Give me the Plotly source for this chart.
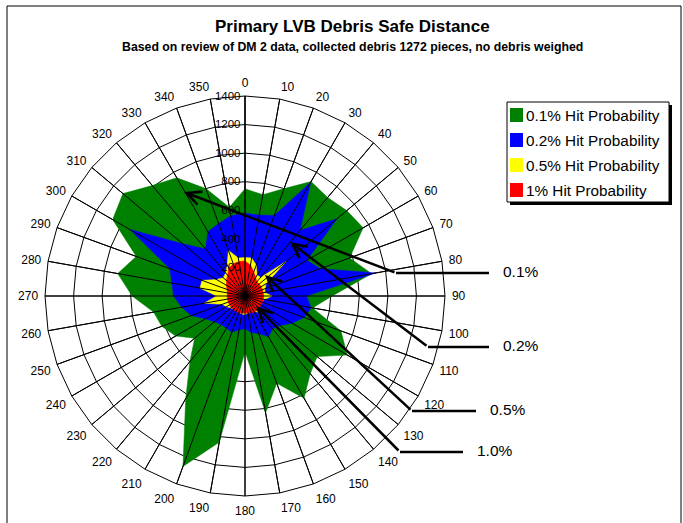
import plotly.graph_objects as go

# Compass bearings (degrees) used as radar categories
directions = [str(d) for d in range(0, 360, 10)]

# Safe distance per bearing for each hit-probability level
hit_01 = [750, 720, 800, 925, 900, 930, 955, 780, 900, 610, 480, 715,
          826, 660, 710, 826, 650, 830, 390, 1040, 1270, 830, 600, 460,
          560, 620, 650, 790, 905, 810, 1070, 1115, 1010, 955, 800, 630]
hit_02 = [580, 575, 600, 920, 600, 840, 500, 560, 930, 430, 470, 440,
          380, 320, 300, 330, 280, 260, 230, 240, 270, 260, 260, 280,
          320, 400, 450, 500, 520, 560, 930, 570, 430, 520, 540, 570]
hit_05 = [270, 270, 230, 170, 170, 380, 170, 150, 140, 190, 140, 120,
          110, 110, 150, 120, 120, 120, 130, 130, 120, 120, 120, 130,
          150, 170, 290, 200, 320, 320, 230, 200, 210, 250, 340, 270]
hit_1 = [245, 220, 180, 150, 130, 130, 130, 130, 130, 130, 130, 130,
         130, 130, 130, 130, 125, 120, 120, 120, 125, 125, 125, 125,
         125, 125, 125, 125, 125, 135, 150, 170, 190, 225, 240, 245]

series_names = ["0.1% Hit Probability", "0.2% Hit Probability",
                "0.5% Hit Probability", "1% Hit Probability"]
series_values = [hit_01, hit_02, hit_05, hit_1]
series_colors = ["#008000", "#0000FF", "#FFFF00", "#FF0000"]

radial_ticks = [200, 400, 600, 800, 1000, 1200, 1400]
r_max = 1400

W, H = 683, 523
FONT = "Liberation Sans, Arial, sans-serif"


def px(x):
    return x / W


def py(y):
    return 1 - y / H


fig = go.Figure()
for name, vals, col in zip(series_names, series_values, series_colors):
    fig.add_trace(go.Scatterpolar(
        r=vals + [vals[0]],
        theta=directions + [directions[0]],
        mode="lines",
        fill="toself",
        fillcolor=col,
        line=dict(color=col, width=0.5),
        name=name,
        showlegend=False,
        hoverinfo="skip",
    ))

# spokes drawn over the filled areas, meeting at the centre
spoke_r, spoke_t = [], []
for d in directions:
    spoke_r += [0, r_max, None]
    spoke_t += [d, d, None]
fig.add_trace(go.Scatterpolar(
    r=spoke_r, theta=spoke_t, mode="lines",
    line=dict(color="black", width=1),
    showlegend=False, hoverinfo="skip", connectgaps=False,
))

cx, cy, rad = 245, 296, 200
fig.update_layout(
    width=W, height=H,
    margin=dict(l=0, r=0, t=0, b=0),
    paper_bgcolor="white",
    plot_bgcolor="white",
    font=dict(family=FONT, color="black", size=11),
    showlegend=False,
    polar=dict(
        domain=dict(x=[px(cx - rad), px(cx + rad)],
                    y=[py(cy + rad), py(cy - rad)]),
        bgcolor="white",
        gridshape="linear",
        angularaxis=dict(
            type="category",
            categoryarray=directions,
            rotation=90,
            direction="clockwise",
            showgrid=True, gridcolor="black", gridwidth=1,
            showline=True, linecolor="black", linewidth=1,
            ticks="outside", ticklen=4, tickcolor="rgba(0,0,0,0)",
            tickfont=dict(size=12, family=FONT, color="black"),
            layer="above traces",
        ),
        radialaxis=dict(
            range=[0, r_max],
            tickvals=radial_ticks,
            ticktext=[str(v) for v in radial_ticks],
            angle=90,
            tickangle=90,
            side="counterclockwise",
            showgrid=True, gridcolor="black", gridwidth=1,
            showline=True, linecolor="black", linewidth=1,
            ticks="",
            tickfont=dict(size=11.5, family=FONT, color="black"),
            layer="above traces",
        ),
    ),
)

shapes = []
# chart-area border
shapes.append(dict(type="rect", xref="paper", yref="paper",
                   x0=px(7), x1=px(681), y0=py(540), y1=py(6),
                   line=dict(color="black", width=1), fillcolor="rgba(0,0,0,0)"))

# legend box with drop shadow
lx0, ly0, lx1, ly1 = 507, 102, 669, 202
shapes.append(dict(type="rect", xref="paper", yref="paper",
                   x0=px(lx0 + 3), x1=px(lx1 + 3), y0=py(ly1 + 3), y1=py(ly0 + 3),
                   line=dict(width=0), fillcolor="black"))
shapes.append(dict(type="rect", xref="paper", yref="paper",
                   x0=px(lx0), x1=px(lx1), y0=py(ly1), y1=py(ly0),
                   line=dict(color="black", width=1), fillcolor="white"))

annotations = []
row_y = [115, 140, 165, 190]
for name, col, yy in zip(series_names, series_colors, row_y):
    shapes.append(dict(type="rect", xref="paper", yref="paper",
                       x0=px(510), x1=px(523), y0=py(yy + 7), y1=py(yy - 7),
                       line=dict(width=0), fillcolor=col))
    annotations.append(dict(text=name, xref="paper", yref="paper",
                            x=px(524), y=py(yy), xanchor="left", yanchor="middle",
                            showarrow=False,
                            font=dict(size=15.3, family=FONT, color="black")))

# call-out leaders: (arrow tip, elbow, end of horizontal run, label, label x)
callouts = [
    ((184, 192), (396, 273), (489, 273), "0.1%", 501),
    ((290, 242), (428, 347), (489, 347), "0.2%", 501),
    ((265, 275), (412, 411), (476, 411), "0.5%", 488),
    ((256, 306), (400, 452), (463, 452), "1.0%", 475),
]
for tip, elbow, end, label, lab_x in callouts:
    shapes.append(dict(type="line", xref="paper", yref="paper",
                       x0=px(elbow[0]), y0=py(elbow[1]), x1=px(end[0]), y1=py(end[1]),
                       line=dict(color="black", width=2.5)))
    annotations.append(dict(text="", xref="paper", yref="paper",
                            x=px(tip[0]), y=py(tip[1]),
                            ax=elbow[0] - tip[0], ay=elbow[1] - tip[1],
                            showarrow=True, arrowhead=5, arrowsize=1.1,
                            arrowwidth=2.5, arrowcolor="black"))
    annotations.append(dict(text=label, xref="paper", yref="paper",
                            x=px(lab_x), y=py(end[1] - 2), xanchor="left",
                            yanchor="middle", showarrow=False,
                            font=dict(size=15.5, family=FONT, color="black")))

# titles
annotations.append(dict(text="<b>Primary LVB Debris Safe Distance</b>",
                        xref="paper", yref="paper", x=px(352), y=py(27),
                        xanchor="center", yanchor="middle", showarrow=False,
                        font=dict(size=17, family=FONT, color="black")))
annotations.append(dict(text="<b>Based on review of DM 2 data, collected debris 1272 pieces, no debris weighed</b>",
                        xref="paper", yref="paper", x=px(352), y=py(47),
                        xanchor="center", yanchor="middle", showarrow=False,
                        font=dict(size=12.3, family=FONT, color="black")))

fig.update_layout(shapes=shapes, annotations=annotations)
fig.write_html("out.html")
